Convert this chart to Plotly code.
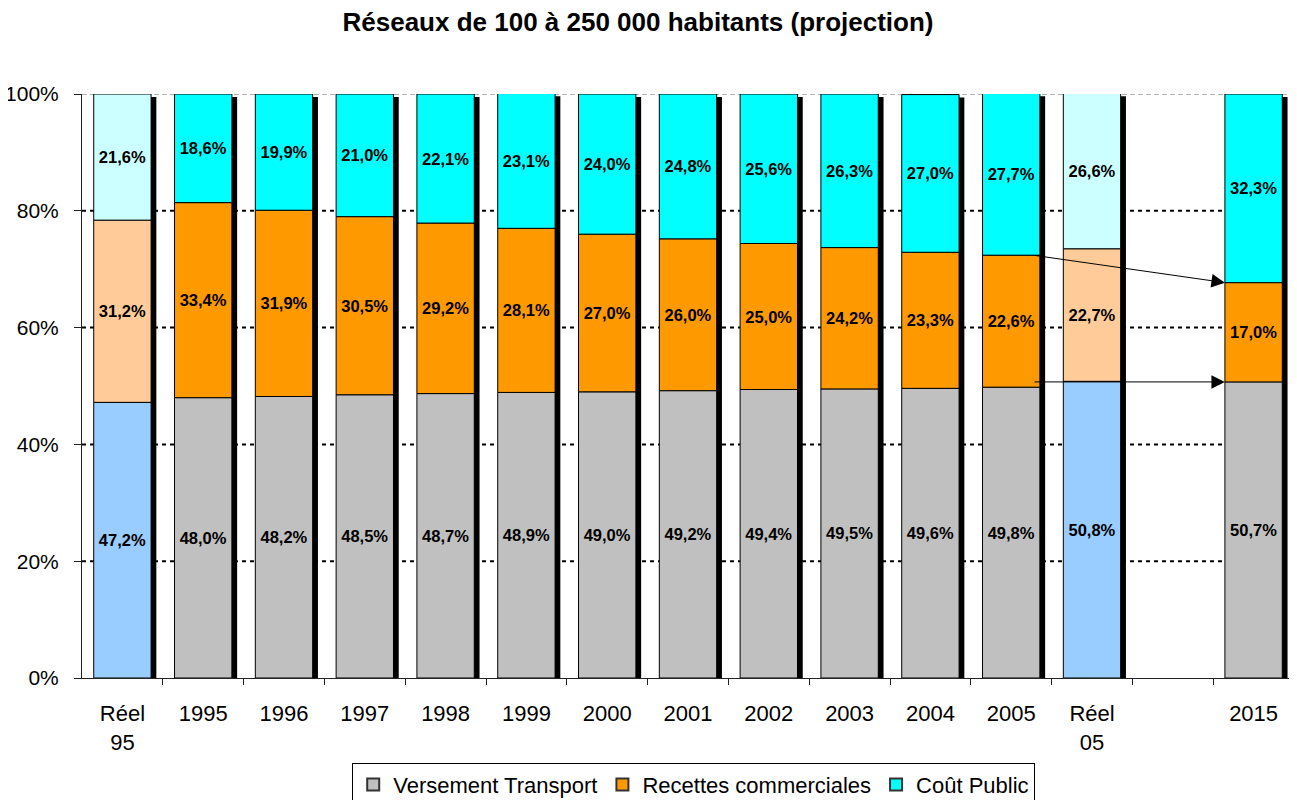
import plotly.graph_objects as go

categories = ["Réel<br>95", "1995", "1996", "1997", "1998", "1999", "2000", "2001",
              "2002", "2003", "2004", "2005", "Réel<br>05", "", "2015"]
versement = [47.2, 48.0, 48.2, 48.5, 48.7, 48.9, 49.0, 49.2, 49.4, 49.5, 49.6, 49.8, 50.8, None, 50.7]
recettes = [31.2, 33.4, 31.9, 30.5, 29.2, 28.1, 27.0, 26.0, 25.0, 24.2, 23.3, 22.6, 22.7, None, 17.0]
cout = [21.6, 18.6, 19.9, 21.0, 22.1, 23.1, 24.0, 24.8, 25.6, 26.3, 27.0, 27.7, 26.6, None, 32.3]
y_ticks = [0, 20, 40, 60, 80, 100]
y_ticktext = ["0%", "20%", "40%", "60%", "80%", "100%"]
series_names = ["Versement Transport", "Recettes commerciales", "Coût Public"]

FONT = "Arial, Liberation Sans, sans-serif"
xs = list(range(len(categories)))
is_reel = [c.startswith("Réel") for c in categories]
BW = 0.71
W, H = 1289, 792

def lab(v):
    return "" if v is None else f"{v:.1f}%".replace(".", ",")

base_rc = [None if v is None else v for v in versement]
base_cp = [None if a is None else a + b for a, b in zip(versement, recettes)]
totals = [None if a is None else a + b + c for a, b, c in zip(versement, recettes, cout)]

colors = {
    0: ("#C0C0C0", "#99CCFF"),
    1: ("#FF9900", "#FFCC99"),
    2: ("#00FFFF", "#CCFFFF"),
}

fig = go.Figure()

# shadow
fig.add_trace(go.Bar(
    x=xs, y=[None if t is None else t - 0.5 for t in totals], base=0,
    width=BW, offset=-BW / 2 + 0.065,
    marker=dict(color="black", line=dict(width=0)),
    showlegend=False, hoverinfo="skip"))

vals = [versement, recettes, cout]
bases = [[0] * len(xs), base_rc, base_cp]
for i in range(3):
    fig.add_trace(go.Bar(
        x=xs, y=vals[i], base=bases[i], width=BW,
        marker=dict(color=[colors[i][1] if r else colors[i][0] for r in is_reel],
                    line=dict(color="black", width=1)),
        text=[lab(v) for v in vals[i]], textposition="inside",
        insidetextanchor="middle", textangle=0, constraintext="none",
        textfont=dict(family=FONT, size=16.5, color="black", weight="bold"),
        showlegend=False, hoverinfo="skip"))

for i in range(3):
    fig.add_trace(go.Bar(
        x=[None], y=[None], name=series_names[i],
        marker=dict(color=colors[i][0], line=dict(color="#333333", width=1)),
        showlegend=True))

# gridlines
for t in y_ticks[1:-1]:
    fig.add_shape(type="line", xref="paper", yref="y", x0=0, x1=1, y0=t, y1=t,
                  line=dict(color="black", width=2, dash="4px,4px"), layer="below")
fig.add_shape(type="line", xref="paper", yref="y", x0=0, x1=1, y0=100, y1=100,
              line=dict(color="#999999", width=1.5, dash="5px,3px"), layer="below")
fig.add_shape(type="line", xref="paper", yref="paper", x0=1, x1=1, y0=0, y1=1,
              line=dict(color="#999999", width=1), layer="below")

# arrows 2005 -> 2015
i05 = categories.index("2005")
i15 = categories.index("2015")
fig.add_annotation(x=i15 - BW / 2, y=versement[i15] + recettes[i15],
                   ax=i05 + 0.27, ay=versement[i05] + recettes[i05],
                   xref="x", yref="y", axref="x", ayref="y", text="",
                   showarrow=True, arrowhead=2, arrowsize=2.7, arrowwidth=1,
                   arrowcolor="black")
fig.add_annotation(x=i15 - BW / 2, y=versement[i15],
                   ax=i05 + 0.27, ay=versement[i15],
                   xref="x", yref="y", axref="x", ayref="y", text="",
                   showarrow=True, arrowhead=2, arrowsize=2.7, arrowwidth=1,
                   arrowcolor="black")

fig.update_layout(
    width=W, height=H,
    barmode="overlay",
    paper_bgcolor="white", plot_bgcolor="white",
    margin=dict(l=74, r=3, t=86, b=122, autoexpand=False),
    font=dict(family=FONT, color="black"),
    title=dict(text="<b>Réseaux de 100 à 250 000 habitants (projection)</b>",
               font=dict(size=26, family=FONT, color="black"),
               x=630 / W, xref="container", xanchor="center",
               y=1 - 14 / H, yref="container", yanchor="middle"),
    xaxis=dict(range=[-0.5, len(xs) - 0.5], tickmode="array", tickvals=xs,
               ticktext=categories, ticks="", showgrid=False, zeroline=False,
               showline=True, linecolor="#222222", linewidth=1,
               tickfont=dict(size=22, family=FONT, color="black"),
               ticklabelstandoff=16, automargin=False,
               minor=dict(tickmode="array", tickvals=[x - 0.5 for x in xs[1:]] + [len(xs) - 0.5],
                          ticks="outside", ticklen=6, tickcolor="#222222", showgrid=False)),
    yaxis=dict(range=[0, 100], tickmode="array", tickvals=y_ticks, ticktext=y_ticktext,
               ticks="outside", ticklen=7, tickcolor="#222222", showgrid=False,
               zeroline=False, showline=True, linecolor="#222222", linewidth=1,
               tickfont=dict(size=21, family=FONT, color="black"),
               ticklabelstandoff=11, automargin=False),
    legend=dict(orientation="h", x=(686 - 74) / 1212.6, xanchor="center", y=-0.145, yanchor="top",
                bordercolor="black", borderwidth=1, bgcolor="white",
                font=dict(size=22, family=FONT, color="black"),
                itemsizing="constant", traceorder="normal", tracegroupgap=0),
)

fig.write_html("out.html")
